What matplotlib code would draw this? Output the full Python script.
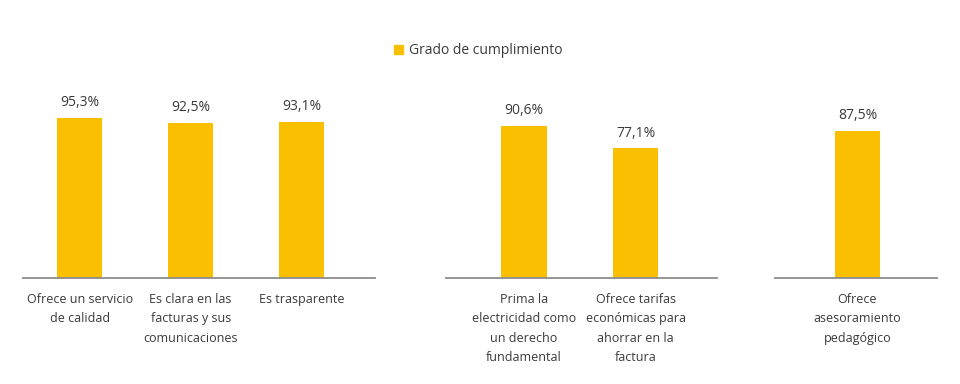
import matplotlib
matplotlib.use("Agg")
import matplotlib.pyplot as plt
from matplotlib.patches import Patch

plt.rcParams['font.family'] = ['Open Sans', 'DejaVu Sans']

series_name = "Grado de cumplimiento"

labels_1 = ["Ofrece un servicio\nde calidad",
            "Es clara en las\nfacturas y sus\ncomunicaciones",
            "Es trasparente"]
values_1 = [95.3, 92.5, 93.1]

labels_2 = ["Prima la\nelectricidad como\nun derecho\nfundamental",
            "Ofrece tarifas\neconómicas para\nahorrar en la\nfactura"]
values_2 = [90.6, 77.1]

labels_3 = ["Ofrece\nasesoramiento\npedagógico"]
values_3 = [87.5]

BAR = "#FAC000"
TXT = "#3A3A3A"
AXIS = "#8C8C8C"

W, H = 960, 384
fig = plt.figure(figsize=(9.6, 3.84), dpi=100)

base_y = 278
top_y = 110
panels = [
    # (left px, right px, xlim)
    (labels_1, values_1, 23, 375, (-0.51, 2.66)),
    (labels_2, values_2, 446, 717, (-0.70, 1.73)),
    (labels_3, values_3, 775, 937, (-0.743, 0.716)),
]

for labels, values, lpx, rpx, xl in panels:
    ax = fig.add_axes([lpx / W, (H - base_y) / H, (rpx - lpx) / W, (base_y - top_y) / H])
    x = list(range(len(values)))
    bars = ax.bar(x, values, width=0.405, color=BAR, zorder=2)
    ax.set_xlim(*xl)
    ax.set_ylim(0, 100)
    for s in ["top", "right", "left"]:
        ax.spines[s].set_visible(False)
    ax.spines["bottom"].set_color(AXIS)
    ax.spines["bottom"].set_linewidth(1.3)
    ax.set_yticks([])
    ax.set_xticks(x, labels)
    ax.tick_params(axis="x", length=0, pad=11, labelsize=9, labelcolor=TXT)
    for t in ax.get_xticklabels():
        t.set_linespacing(1.62)
        t.set_verticalalignment("top")
    for b, v in zip(bars, values):
        ax.annotate(f"{v:.1f}%".replace(".", ","),
                    (b.get_x() + b.get_width() / 2, v),
                    xytext=(0, 5.5), textcoords="offset points",
                    ha="center", va="bottom", fontsize=10, color=TXT)
    ax.patch.set_alpha(0)

fig.legend(handles=[Patch(color=BAR, label=series_name)],
           loc="center", bbox_to_anchor=(478 / W, 1 - 51 / H),
           frameon=False, handlelength=0.65, handleheight=0.65,
           handletextpad=0.45, fontsize=10, labelcolor=TXT)

fig.savefig("out.png", dpi=100, facecolor="white")
